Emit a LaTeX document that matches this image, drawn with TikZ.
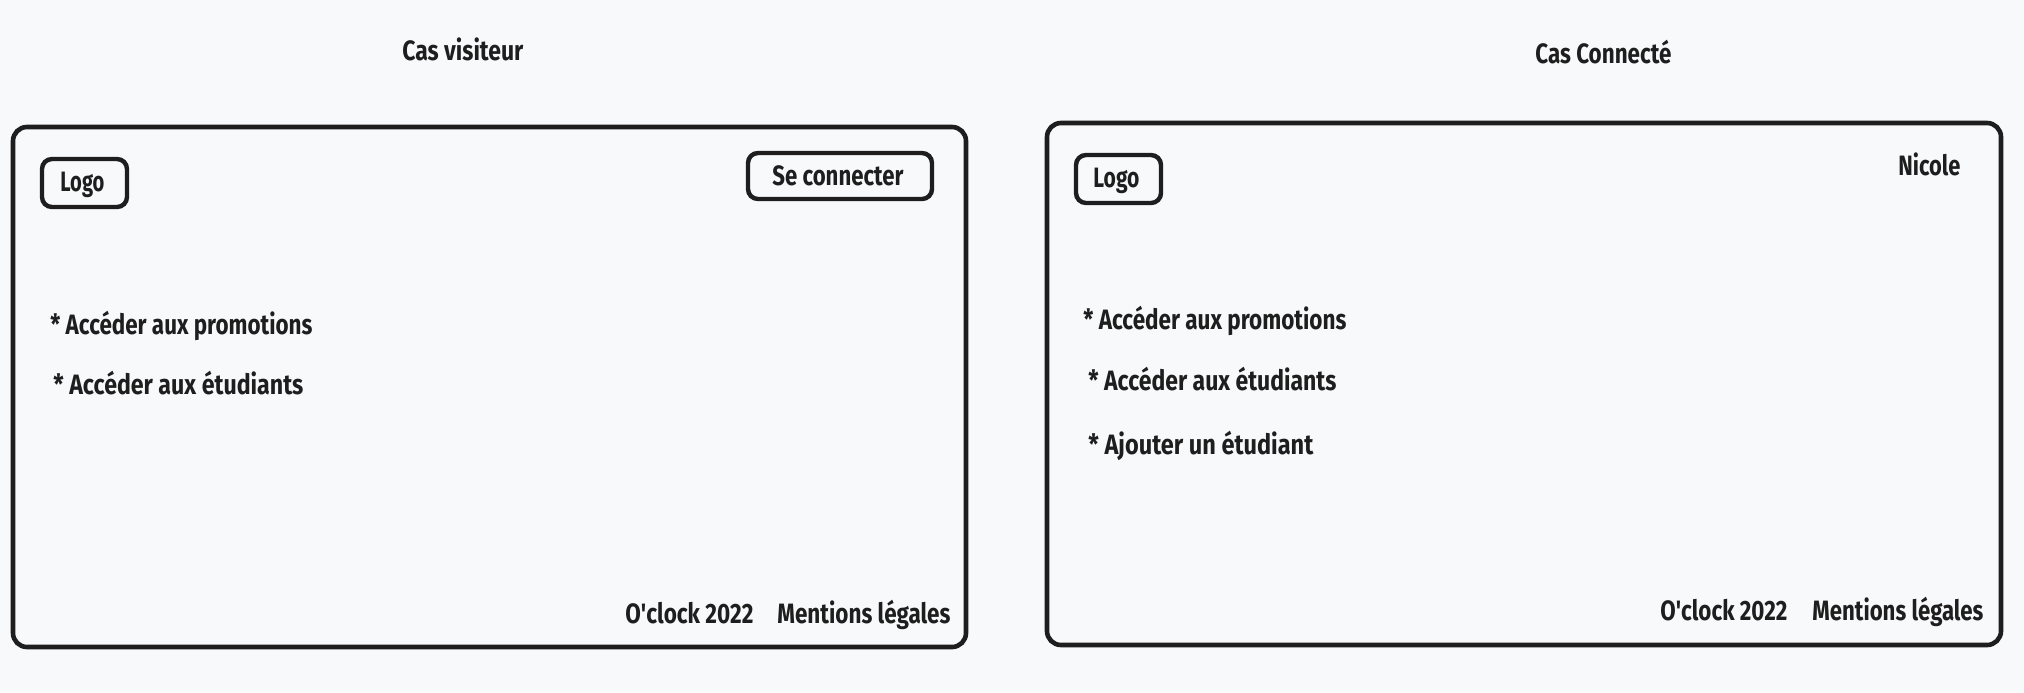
\documentclass[tikz,border=0pt]{standalone}
\usepackage{fontspec}
\usepackage{graphicx}
\setmainfont{Fira Sans}
\definecolor{bgc}{HTML}{F8F9FA}
\definecolor{ink}{HTML}{1E1E1E}
\newcommand\fw[2]{\setbox0=\hbox{#2}\pgfmathsetmacro\myscx{#1/\the\wd0}\scalebox{\myscx}[1]{\box0}}
\tikzset{
  frame/.style={draw=ink, line width=2.3pt, rounded corners=7pt, inner sep=0pt},
  btn/.style={draw=ink, line width=2.2pt, rounded corners=5pt, inner sep=0pt},
  lbl/.style={anchor=base west, inner sep=0pt, text=ink, font=\fontsize{14}{16}\selectfont\bfseries}
}
\begin{document}
\begin{tikzpicture}[x=0.5pt,y=-0.5pt]
\fill[bgc] (0,0) rectangle (2024,692);
\useasboundingbox (0,0) rectangle (2024,692);
% titles
\node[lbl] (t1) at (402,60) {\fw{60.5pt}{Cas visiteur}};
\node[lbl] (t2) at (1535,63) {\fw{68pt}{Cas Connecté}};
% frames
\node[frame, minimum width=476.5pt, minimum height=260pt] (f1) at (489.5,387) {};
\node[frame, minimum width=477pt, minimum height=261pt] (f2) at (1524,384) {};
% left header
\node[btn, minimum width=42.5pt, minimum height=24pt] (logo1) at (84.5,183) {};
\node[lbl] (logo1t) at (60,191) {\fw{22pt}{Logo}};
\node[btn, minimum width=92pt, minimum height=23pt] (conn) at (840,176) {};
\node[lbl] (connt) at (772,185) {\fw{65.5pt}{Se connecter}};
% left items
\node[lbl] (l1) at (50,334) {\fw{131pt}{* Accéder aux promotions}};
\node[lbl] (l2) at (53,394) {\fw{125pt}{* Accéder aux étudiants}};
% left footer
\node[lbl] (lf1) at (625,623) {\fw{64pt}{O\textquotesingle clock 2022}};
\node[lbl] (lf2) at (777,623) {\fw{86.5pt}{Mentions légales}};
% right header
\node[btn, minimum width=42.5pt, minimum height=24pt] (logo2) at (1118.5,179) {};
\node[lbl] (logo2t) at (1093,187) {\fw{23pt}{Logo}};
\node[lbl] (nic) at (1898,175) {\fw{31pt}{Nicole}};
% right items
\node[lbl] (r1) at (1083,329) {\fw{131.5pt}{* Accéder aux promotions}};
\node[lbl] (r2) at (1088,390) {\fw{124pt}{* Accéder aux étudiants}};
\node[lbl] (r3) at (1088,454) {\fw{112.5pt}{* Ajouter un étudiant}};
% right footer
\node[lbl] (rf1) at (1660,620) {\fw{63.5pt}{O\textquotesingle clock 2022}};
\node[lbl] (rf2) at (1812,620) {\fw{85.5pt}{Mentions légales}};
\end{tikzpicture}
\end{document}
